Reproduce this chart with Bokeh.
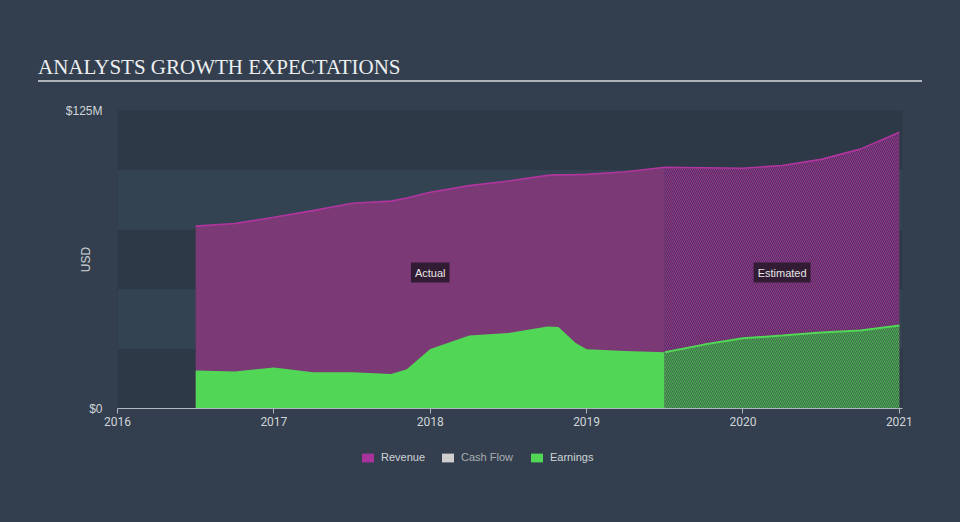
from bokeh.plotting import figure
from bokeh.layouts import column
from bokeh.models import FixedTicker, Label, Legend, LegendItem, ColumnDataSource, Div
from bokeh.embed import file_html
from bokeh.resources import INLINE

# ---- data (USD millions, fractional years) ----
years_actual = [2016.5, 2016.75, 2017.0, 2017.25, 2017.5, 2017.75, 2017.85, 2018.0,
                2018.25, 2018.5, 2018.75, 2018.82, 2018.93, 2019.0, 2019.25, 2019.5]
revenue_actual = [76.5, 77.6, 80.2, 83.0, 86.1, 87.0, 88.3, 90.7,
                  93.5, 95.4, 97.8, 98.0, 98.1, 98.2, 99.3, 101.2]
earnings_actual = [15.9, 15.5, 17.2, 15.2, 15.2, 14.5, 16.5, 25.0,
                   30.6, 31.7, 34.4, 34.2, 27.5, 24.9, 24.1, 23.6]

years_est = [2019.5, 2019.75, 2020.0, 2020.25, 2020.5, 2020.75, 2021.0]
revenue_est = [101.2, 101.0, 100.8, 101.9, 104.5, 108.8, 115.9]
earnings_est = [23.6, 26.8, 29.5, 30.6, 31.9, 32.7, 34.8]

x_ticks = [2016, 2017, 2018, 2019, 2020, 2021]
y_ticks = [0, 125]
y_tick_labels = {0: "$0", 125: "$125M"}
band_ticks = [0, 25, 50, 75, 100, 125]

legend_names = ["Revenue", "Cash Flow", "Earnings"]
legend_colors = ["#a8339a", "#cfcfcf", "#52d656"]
legend_text_colors = ["#d0d4d8", "#a9adb2", "#d0d4d8"]

title_text = "ANALYSTS GROWTH EXPECTATIONS"

BG = "#333f4e"

# ---- title block ----
title_html = (
    '<div style="margin:0;padding-top:55px;padding-left:38px;">'
    '<div style="width:884px;border-bottom:2px solid #aeb3b8;'
    'font-family:\'Liberation Serif\';font-size:21px;line-height:25px;'
    f'color:#eceef0;white-space:nowrap;">{title_text}</div></div>'
)
title_div = Div(text=title_html, width=960, height=84,
                styles={"background-color": BG, "margin": "0", "padding": "0"})

# ---- main chart ----
p = figure(width=960, height=352, x_range=(2016, 2021.02), y_range=(0, 125),
           output_backend="svg", toolbar_location=None,
           min_border_left=117, min_border_right=58, min_border_top=26, min_border_bottom=28)
p.border_fill_color = BG
p.background_fill_color = "#2d3947"
p.outline_line_color = None

p.ygrid.ticker = FixedTicker(ticks=band_ticks)
p.ygrid.grid_line_color = None
p.ygrid.band_fill_color = "#344352"
p.ygrid.band_fill_alpha = 1.0
p.xgrid.grid_line_color = None

p.xaxis.ticker = FixedTicker(ticks=x_ticks)
p.xaxis.axis_line_color = "#aeb6bf"
p.xaxis.major_tick_line_color = "#aeb6bf"
p.xaxis.major_tick_out = 5
p.xaxis.major_tick_in = 0
p.xaxis.minor_tick_line_color = None
p.xaxis.major_label_text_color = "#d0d4d8"
p.xaxis.major_label_text_font = "Roboto"
p.xaxis.major_label_text_font_size = "12px"
p.xaxis.major_label_standoff = 3

p.yaxis.ticker = FixedTicker(ticks=y_ticks)
p.yaxis.major_label_overrides = y_tick_labels
p.yaxis.axis_line_color = None
p.yaxis.major_tick_line_color = None
p.yaxis.minor_tick_line_color = None
p.yaxis.major_label_text_color = "#d0d4d8"
p.yaxis.major_label_text_font = "Liberation Sans"
p.yaxis.major_label_text_font_size = "12px"
p.yaxis.major_label_standoff = 9
p.yaxis.axis_label = "USD"
p.yaxis.axis_label_text_font = "Liberation Sans"
p.yaxis.axis_label_text_font_style = "normal"
p.yaxis.axis_label_text_font_size = "12px"
p.yaxis.axis_label_text_color = "#d0d4d8"
p.yaxis.axis_label_standoff = -30

# actual areas
p.varea(x=years_actual, y1=0, y2=revenue_actual, fill_color="#7b3a76")
p.varea(x=years_actual, y1=0, y2=earnings_actual, fill_color="#52d656")

# estimated areas (hatched)
p.varea(x=years_est, y1=0, y2=revenue_est, fill_color="#52305a",
        hatch_pattern="\\", hatch_color="#a0389a", hatch_alpha=0.85,
        hatch_scale=4, hatch_weight=1)
p.varea(x=years_est, y1=0, y2=earnings_est, fill_color="#3b5249",
        hatch_pattern="\\", hatch_color="#52d656", hatch_alpha=0.75,
        hatch_scale=4, hatch_weight=1.1)

# outlines
p.line(x=years_actual + years_est[1:], y=revenue_actual + revenue_est[1:],
       line_color="#b0359e", line_width=1.6)
p.line(x=years_est, y=earnings_est, line_color="#52d656", line_width=2)

# Actual / Estimated tags
for txt, xv in [("Actual", 2018.0), ("Estimated", 2020.25)]:
    p.add_layout(Label(x=xv, y=57, text=txt, text_align="center", text_baseline="middle",
                       text_font="Liberation Sans", text_font_size="11px",
                       text_color="#e6e6e6", background_fill_color="#2a1a2c",
                       background_fill_alpha=0.9, padding=4))

# ---- legend strip ----
lg = figure(width=960, height=86, x_range=(0, 1), y_range=(0, 1),
            output_backend="svg", toolbar_location=None,
            x_axis_type=None, y_axis_type=None,
            min_border_left=0, min_border_right=0, min_border_top=0, min_border_bottom=0)
lg.border_fill_color = BG
lg.background_fill_color = BG
lg.outline_line_color = None
lg.grid.visible = False

# legend offsets measured from the aligned frame's left edge
legend_x = [243, 323, 412]
for name, col, tcol, lx in zip(legend_names, legend_colors, legend_text_colors, legend_x):
    # zero-size proxy glyph: only used to draw the legend swatch
    src = ColumnDataSource(data=dict(l=[0], r=[0], b=[0], t=[0]))
    r = lg.quad(left="l", right="r", bottom="b", top="t", source=src,
                fill_color=col, line_color=None)
    leg = Legend(items=[LegendItem(label=name, renderers=[r])], location=(lx, 59),
                 background_fill_alpha=0, border_line_color=None,
                 label_text_color=tcol, label_text_font="Liberation Sans",
                 label_text_font_size="11px", glyph_width=15, glyph_height=11,
                 label_standoff=6, margin=0, padding=0)
    lg.add_layout(leg)

layout = column(title_div, p, lg, spacing=0, styles={"background-color": BG})
open("out.html", "w").write(file_html(layout, INLINE))
